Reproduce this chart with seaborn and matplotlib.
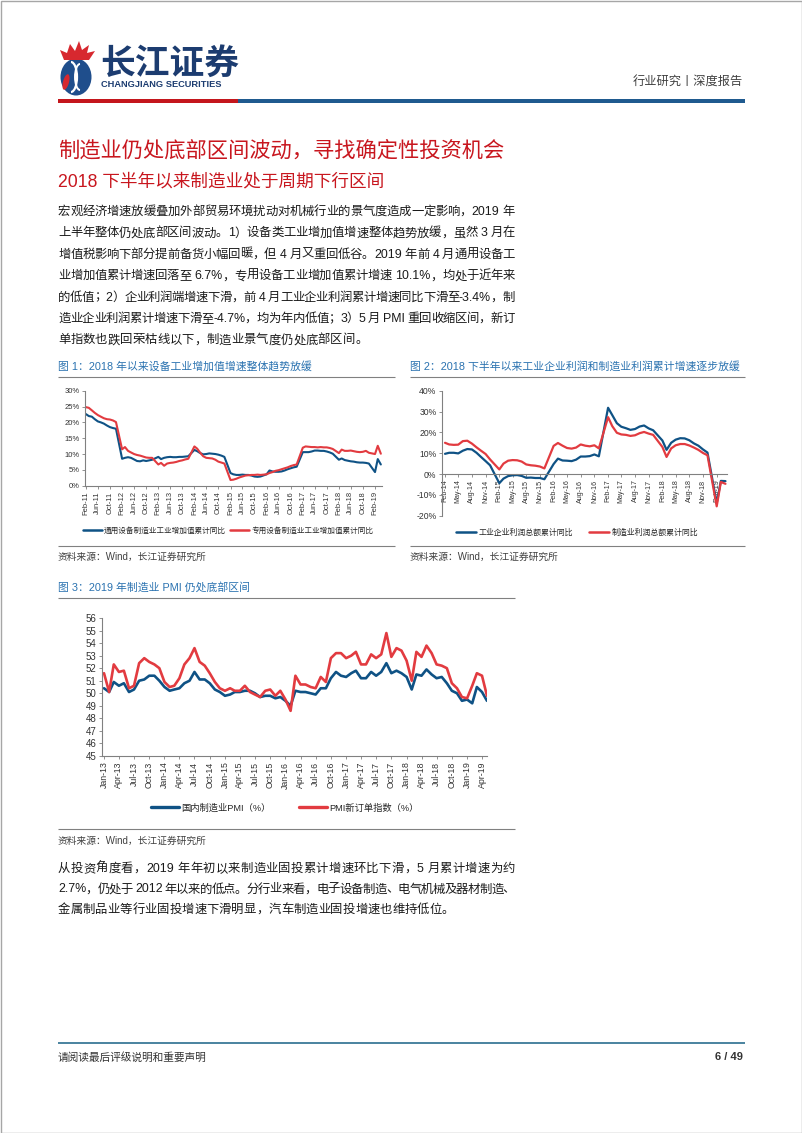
import re
import pandas as pd
import seaborn as sns
import matplotlib.pyplot as plt
import matplotlib.dates as mdates
from matplotlib.lines import Line2D
from matplotlib.patches import Rectangle, Ellipse, Polygon, Arc

sns.set_style("ticks")
plt.rcParams["font.family"] = ["Liberation Sans", "Noto Sans CJK SC"]
plt.rcParams["axes.unicode_minus"] = False

W, H = 802, 1133
BLUE = "#0f5285"
RED = "#e23b40"
TITLE_RED = "#c8161e"
TITLE_BLUE = "#2a72b0"
TEXT = "#1a1a1a"
GREY = "#808080"

# ---- 图1 设备工业增加值累计同比 (%), Feb-11 .. Apr-19, 无1月
gen_equip = [
    22.6, 22.0, 21.8, 21.0, 20.3, 20.0, 19.6, 19.0, 18.5, 18.2, 18.0,   # 2011
    8.5, 8.8, 9.0, 8.8, 8.3, 7.8, 7.7, 8.0, 7.8, 8.0, 8.2,              # 2012
    9.1, 8.4, 8.8, 9.0, 9.1, 9.0, 9.0, 9.1, 9.1, 9.2, 9.3,              # 2013
    11.3, 10.9, 10.3, 9.9, 10.0, 10.2, 10.1, 10.0, 9.8, 9.5, 9.1,       # 2014
    4.0, 3.6, 3.4, 3.4, 3.5, 3.4, 3.4, 3.2, 2.9, 2.8, 2.9,              # 2015
    3.6, 4.8, 4.5, 4.4, 4.4, 4.5, 4.8, 5.2, 5.5, 5.8, 6.0,              # 2016
    10.6, 10.6, 10.6, 10.8, 11.1, 11.1, 11.0, 11.0, 10.8, 10.5, 10.1,   # 2017
    8.2, 8.6, 8.1, 7.9, 7.7, 7.6, 7.4, 7.3, 7.3, 7.2, 7.0,              # 2018
    4.3, 8.4, 6.7,                                                      # 2019
]
spec_equip = [
    24.8, 24.6, 23.8, 23.0, 22.3, 21.8, 21.3, 21.0, 20.9, 20.6, 20.1,
    11.5, 12.2, 11.0, 10.5, 10.0, 9.7, 9.5, 9.2, 8.9, 8.8, 8.8,
    6.7, 7.2, 6.3, 7.0, 7.2, 7.3, 7.5, 7.8, 8.0, 8.3, 8.5,
    12.4, 11.7, 10.4, 9.3, 8.8, 8.7, 8.6, 8.2, 7.6, 7.3, 7.0,
    1.8, 1.9, 2.2, 2.6, 2.9, 3.2, 3.3, 3.4, 3.4, 3.5, 3.4,
    3.6, 4.0, 4.3, 4.7, 4.9, 5.2, 5.5, 5.8, 6.2, 6.5, 6.7,
    12.0, 12.4, 12.3, 12.2, 12.2, 12.1, 12.2, 12.1, 12.1, 11.9, 11.6,
    10.3, 11.4, 11.0, 11.0, 11.1, 10.9, 10.7, 10.6, 10.7, 11.0, 10.4,
    10.0, 12.6, 10.1,
]
fig1_names = ["通用设备制造业工业增加值累计同比", "专用设备制造业工业增加值累计同比"]

# ---- 图2 利润总额累计同比 (%), Feb-14 .. Apr-19, 无1月
ind_profit = [
    9.7, 10.2, 10.2, 9.9, 11.2, 12.0, 11.8, 10.2, 8.2, 6.2, 4.2,        # 2014
    -4.4, -2.2, -1.0, -0.6, -0.5, -0.9, -1.8, -1.7, -1.9, -1.9, -2.5,   # 2015
    4.8, 7.4, 6.5, 6.4, 6.2, 6.9, 8.4, 8.4, 8.6, 9.4, 8.5,              # 2016
    31.8, 28.3, 24.4, 22.7, 22.0, 21.2, 21.6, 22.8, 23.3, 21.9, 21.0,   # 2017
    16.1, 11.6, 15.0, 16.5, 17.2, 17.1, 16.2, 14.7, 13.6, 11.8, 10.3,   # 2018
    -14.0, -3.3, -3.4,                                                  # 2019
]
mfg_profit = [
    15.0, 14.2, 14.0, 14.1, 15.8, 16.0, 14.6, 12.8, 11.2, 9.6, 7.0,
    2.2, 5.0, 6.4, 6.7, 6.6, 6.0, 4.6, 4.2, 4.0, 3.6, 2.7,
    13.5, 14.9, 13.6, 12.5, 12.2, 12.7, 14.2, 13.6, 13.3, 13.8, 12.3,
    27.3, 23.0, 19.8, 19.0, 18.8, 18.3, 18.6, 19.6, 20.2, 19.4, 18.8,
    13.0, 8.2, 12.3, 13.8, 14.4, 14.4, 13.7, 12.7, 11.6, 10.1, 9.0,
    -15.5, -3.8, -4.7,
]
fig2_names = ["工业企业利润总额累计同比", "制造业利润总额累计同比"]

# ---- 图3 PMI, Jan-13 .. May-19
pmi = [
    50.4, 50.1, 50.9, 50.6, 50.8, 50.1, 50.3, 51.0, 51.1, 51.4, 51.4, 51.0,
    50.5, 50.2, 50.3, 50.4, 50.8, 51.0, 51.7, 51.1, 51.1, 50.8, 50.3, 50.1,
    49.8, 49.9, 50.1, 50.1, 50.2, 50.2, 50.0, 49.7, 49.8, 49.8, 49.6, 49.7,
    49.4, 49.0, 50.2, 50.1, 50.1, 50.0, 49.9, 50.4, 50.4, 51.2, 51.7, 51.4,
    51.3, 51.6, 51.8, 51.2, 51.2, 51.7, 51.4, 51.7, 52.4, 51.6, 51.8, 51.6,
    51.3, 50.3, 51.5, 51.4, 51.9, 51.5, 51.2, 51.3, 50.8, 50.2, 50.0, 49.4,
    49.5, 49.2, 50.5, 50.1, 49.4,
]
new_orders = [
    51.6, 50.1, 52.3, 51.7, 51.8, 50.4, 50.6, 52.4, 52.8, 52.5, 52.3, 52.0,
    50.9, 50.5, 50.6, 51.2, 52.3, 52.8, 53.6, 52.5, 52.2, 51.6, 50.9, 50.4,
    50.2, 50.4, 50.2, 50.2, 50.6, 50.1, 49.9, 49.7, 50.2, 50.3, 49.8, 50.2,
    49.5, 48.6, 51.4, 50.7, 50.7, 50.5, 50.4, 51.3, 50.9, 52.8, 53.2, 53.2,
    52.8, 53.0, 53.3, 52.3, 52.3, 53.1, 52.8, 53.1, 54.8, 52.9, 53.6, 53.4,
    52.6, 51.0, 53.3, 52.9, 53.8, 53.2, 52.3, 52.2, 52.0, 50.8, 50.4, 49.7,
    49.6, 50.6, 51.6, 51.4, 49.8,
]
fig3_names = ["国内制造业PMI（%）", "PMI新订单指数（%）"]

para1 = [
    "宏观经济增速放缓叠加外部贸易环境扰动对机械行业的景气度造成一定影响，2019 年",
    "上半年整体仍处底部区间波动。1）设备类工业增加值增速整体趋势放缓，虽然 3 月在",
    "增值税影响下部分提前备货小幅回暖，但 4 月又重回低谷。2019 年前 4 月通用设备工",
    "业增加值累计增速回落至 6.7%，专用设备工业增加值累计增速 10.1%，均处于近年来",
    "的低值；2）企业利润端增速下滑，前 4 月工业企业利润累计增速同比下滑至-3.4%，制",
    "造业企业利润累计增速下滑至-4.7%，均为年内低值；3）5 月 PMI 重回收缩区间，新订",
    "单指数也跌回荣枯线以下，制造业景气度仍处底部区间。",
]
para2 = [
    "从投资角度看，2019 年年初以来制造业固投累计增速环比下滑，5 月累计增速为约",
    "2.7%，仍处于 2012 年以来的低点。分行业来看，电子设备制造、电气机械及器材制造、",
    "金属制品业等行业固投增速下滑明显，汽车制造业固投增速也维持低位。",
]
source = "资料来源：Wind，长江证券研究所"


def fx(x):
    return x / W


def fy(y):
    return 1 - y / H


def monthly(start, end, skip_jan):
    d = pd.date_range(start, end, freq="MS")
    return d[d.month != 1] if skip_jan else d


def xlim_for(ax_l, ax_r, d0, p0, d1, p1):
    n0, n1 = mdates.date2num(pd.Timestamp(d0)), mdates.date2num(pd.Timestamp(d1))
    k = (n1 - n0) / (p1 - p0)
    return n0 - (p0 - ax_l) * k, n1 + (ax_r - p1) * k


fig = plt.figure(figsize=(W / 100, H / 100), dpi=100)

# overlay in pixel coordinates for page furniture
deco = fig.add_axes([0, 0, 1, 1], zorder=0)
deco.set_xlim(0, W)
deco.set_ylim(H, 0)
deco.axis("off")


def hline(x0, x1, y, color=GREY, lw=0.8):
    deco.plot([x0, x1], [y, y], color=color, lw=lw, solid_capstyle="butt")


# page border
deco.add_patch(Rectangle((0.5, 0.5), W - 1, H - 1, fill=False, ec="#a6a6a6", lw=1))

# logo
deco.add_patch(Ellipse((76, 77), 31, 37, fc="#1f4e8c", ec="none"))
deco.add_patch(Arc((71, 77), 12, 30, theta1=-90, theta2=90, color="white", lw=1.6))
deco.add_patch(Arc((80, 77), 10, 26, theta1=90, theta2=270, color="white", lw=1.4))
deco.add_patch(Polygon([(64, 60), (60, 50), (67, 53), (70, 44), (75, 51), (79, 41),
                        (82, 50), (89, 45), (87, 53), (95, 51), (89, 60)],
                       closed=True, fc="#d7282f", ec="none"))
deco.add_patch(Ellipse((66, 82), 6, 16, fc="#d7282f", ec="none", angle=15))
deco.text(100, 63, "长江证券", fontsize=25, fontweight="bold", color="#1c3c70",
          va="center", ha="left", family=["Noto Sans CJK SC"])
deco.text(101, 84.5, "CHANGJIANG SECURITIES", fontsize=6.7, fontweight="bold",
          color="#1c3c70", va="center", ha="left")
deco.text(743, 83, "行业研究丨深度报告", fontsize=8.8, color="#404040",
          va="center", ha="right")
deco.add_patch(Rectangle((58, 98.5), 180, 4, fc="#c4161c", ec="none"))
deco.add_patch(Rectangle((238, 98.5), 507, 4, fc="#1f5a8f", ec="none"))

# headings
deco.text(58, 150, "制造业仍处底部区间波动，寻找确定性投资机会", fontsize=15.3,
          color=TITLE_RED, va="center", ha="left")
deco.text(58, 182, "2018 下半年以来制造业处于周期下行区间", fontsize=12.7,
          color=TITLE_RED, va="center", ha="left")

renderer = fig.canvas.get_renderer()


def justify(line, y, size, x0=58, x1=515, stretch=True):
    toks = re.findall(r"[A-Za-z0-9.%\-]+| |.", line)
    items = []
    for t in toks:
        if t == " ":
            items.append((None, size * 100 / 72 * 0.28))
            continue
        tx = deco.text(0, y, t, fontsize=size, color=TEXT, va="center", ha="left")
        items.append((tx, tx.get_window_extent(renderer).width))
    total = sum(w for _, w in items)
    gap = (x1 - x0 - total) / (len(items) - 1) if stretch else 0
    x = x0
    for tx, w in items:
        if tx is not None:
            tx.set_x(x)
        x += w + gap


for i, line in enumerate(para1):
    justify(line, 212 + i * 21.4, 8.9, stretch=i < len(para1) - 1)
for i, line in enumerate(para2):
    justify(line, 869 + i * 20.5, 8.9, stretch=i < len(para2) - 1)

# chart captions and rules
deco.text(58, 366, "图 1：2018 年以来设备工业增加值增速整体趋势放缓", fontsize=7.8,
          color=TITLE_BLUE, va="center", ha="left")
deco.text(410, 366, "图 2：2018 下半年以来工业企业利润和制造业利润累计增速逐步放缓",
          fontsize=7.8, color=TITLE_BLUE, va="center", ha="left")
deco.text(58, 587, "图 3：2019 年制造业 PMI 仍处底部区间", fontsize=7.8,
          color=TITLE_BLUE, va="center", ha="left")
hline(58, 395, 377)
hline(410, 745, 377)
hline(58, 515, 598)
hline(58, 395, 546)
hline(410, 745, 546)
hline(58, 515, 829)
for sx, sy in [(58, 557), (410, 557), (58, 841)]:
    deco.text(sx, sy, source, fontsize=7, color="#404040", va="center", ha="left")

# footer
hline(58, 745, 1043, color="#2b6e8f", lw=1.2)
deco.text(58, 1057, "请阅读最后评级说明和重要声明", fontsize=7.7, color="#333333",
          va="center", ha="left")
deco.text(743, 1057, "6 / 49", fontsize=8, fontweight="bold", color="#333333",
          va="center", ha="right")


def line_chart(box, dates, s1, s2, names, lw):
    l, t, r, b = box
    ax = fig.add_axes([fx(l), fy(b), (r - l) / W, (b - t) / H], zorder=2)
    df = pd.DataFrame({"date": dates, names[0]: s1, names[1]: s2})
    df = df.melt("date", var_name="series", value_name="value")
    sns.lineplot(data=df, x="date", y="value", hue="series", palette=[BLUE, RED],
                 linewidth=lw, ax=ax, legend=False, sort=False)
    ax.set_xlabel("")
    ax.set_ylabel("")
    ax.patch.set_alpha(0)
    for s in ["top", "right"]:
        ax.spines[s].set_visible(False)
    for s in ["left", "bottom"]:
        ax.spines[s].set_color(GREY)
        ax.spines[s].set_linewidth(0.8)
    ax.tick_params(colors=GREY, labelcolor="#333333", length=2, width=0.6, pad=2)
    for ln in ax.get_lines():
        ln.set_solid_joinstyle("round")
    return ax


def add_legend(ax, names, center, size, lw, hl, cs):
    handles = [Line2D([], [], color=BLUE, lw=lw), Line2D([], [], color=RED, lw=lw)]
    ax.legend(handles, names, loc="center", bbox_to_anchor=(fx(center[0]), fy(center[1])),
              bbox_transform=fig.transFigure, ncol=2, frameon=False, fontsize=size,
              handlelength=hl, handletextpad=0.3, columnspacing=cs,
              borderpad=0, borderaxespad=0)


# chart 1
d1 = monthly("2011-02-01", "2019-04-01", True)
ax1 = line_chart((85, 390.7, 382, 485.7), d1, gen_equip, spec_equip, fig1_names, 1.5)
ax1.set_ylim(0, 30)
ax1.set_yticks(range(0, 31, 5))
ax1.set_yticklabels([f"{v}%" for v in range(0, 31, 5)], fontsize=5.5)
ax1.set_xlim(*xlim_for(85, 382, "2011-02-01", 86, "2019-02-01", 375))
t1 = pd.date_range("2011-02-01", "2019-02-01", freq="4MS")
ax1.set_xticks(mdates.date2num(t1))
ax1.set_xticklabels([d.strftime("%b-%y") for d in t1], rotation=90, fontsize=5.4)
add_legend(ax1, fig1_names, (228, 531), 5.5, 1.8, 2.5, 0.5)

# chart 2
d2 = monthly("2014-02-01", "2019-04-01", True)
ax2 = line_chart((442, 390.7, 727, 515.7), d2, ind_profit, mfg_profit, fig2_names, 1.6)
ax2.set_ylim(-20, 40)
ax2.set_yticks(range(-20, 41, 10))
ax2.set_yticklabels([f"{v}%" for v in range(-20, 41, 10)], fontsize=6.2)
ax2.spines["bottom"].set_position(("data", 0))
ax2.set_xlim(*xlim_for(442, 727, "2014-02-01", 445, "2019-02-01", 716.7))
t2 = pd.date_range("2014-02-01", "2019-02-01", freq="3MS")
ax2.set_xticks(mdates.date2num(t2))
ax2.set_xticklabels([d.strftime("%b-%y") for d in t2], rotation=90, fontsize=5.1)
add_legend(ax2, fig2_names, (577, 532.5), 5.7, 1.8, 2.5, 2.1)

# chart 3
d3 = monthly("2013-01-01", "2019-05-01", False)
ax3 = line_chart((102, 618, 487, 756), d3, pmi, new_orders, fig3_names, 1.9)
ax3.set_ylim(45, 56)
ax3.set_yticks(range(45, 57))
ax3.set_yticklabels([str(v) for v in range(45, 57)], fontsize=7)
ax3.set_xlim(*xlim_for(102, 487, "2013-01-01", 104, "2019-04-01", 482))
t3 = pd.date_range("2013-01-01", "2019-04-01", freq="3MS")
ax3.set_xticks(mdates.date2num(t3))
ax3.set_xticklabels([d.strftime("%b-%y") for d in t3], rotation=90, fontsize=6.3)
add_legend(ax3, fig3_names, (285, 808), 6.7, 2.4, 3.0, 3.0)

fig.savefig("out.png", dpi=100)
